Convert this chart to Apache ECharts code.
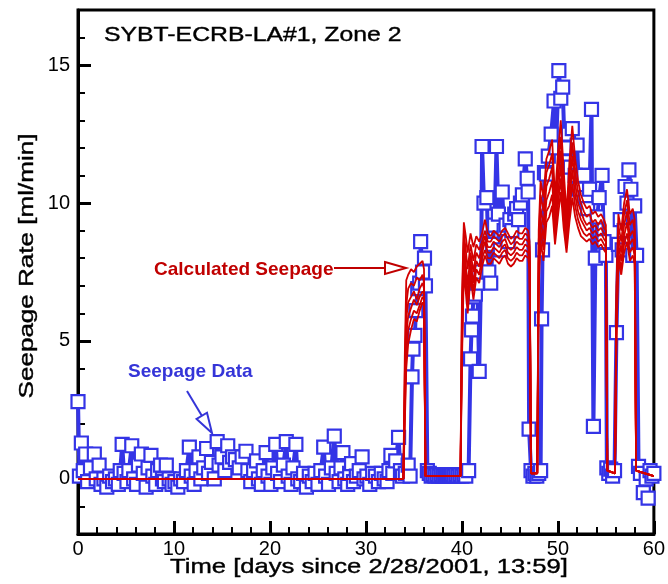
<!DOCTYPE html>
<html>
<head>
<meta charset="utf-8">
<script src="https://cdn.jsdelivr.net/npm/echarts@6/dist/echarts.min.js"></script>
<style>
  html, body { margin: 0; padding: 0; background: #fff; }
  #chart { width: 668px; height: 584px; }
</style>
</head>
<body>
<div id="chart"></div>
<script>
// Measured seepage rate [ml/min] versus time [days], in sampling order.
const measured = [
  [0.0,2.8],[0.15,0.1],[0.35,1.3],[0.55,0.3],[0.8,0.9],[1.0,-0.1],[1.3,0.4],[1.7,0.9],[1.9,0.0],[2.2,0.5],
  [2.4,-0.2],[2.7,0.0],[3.0,-0.3],[3.3,0.1],[3.6,-0.1],[3.9,0.0],[4.2,-0.2],[4.4,0.3],[4.6,1.25],[4.8,0.2],
  [5.1,-0.1],[5.3,0.3],[5.6,1.2],[5.8,0.0],[6.1,-0.2],[6.3,0.5],[6.6,0.9],[6.8,0.2],[7.1,-0.3],[7.3,0.4],
  [7.6,0.85],[7.8,0.1],[8.1,-0.2],[8.3,0.3],[8.6,0.5],[8.8,0.0],[9.0,-0.1],[9.2,0.5],[9.5,0.0],[9.8,-0.2],
  [10.1,-0.1],[10.4,-0.3],[10.7,0.0],[11.0,-0.1],[11.3,0.3],[11.6,1.15],[11.8,0.1],[12.1,-0.2],[12.3,0.3],[12.6,0.8],
  [12.8,0.0],[13.1,0.4],[13.4,1.1],[13.6,0.2],[13.9,0.6],[14.2,0.0],[14.5,1.35],[14.7,0.5],[15.0,0.8],[15.3,0.3],
  [15.6,1.2],[15.8,0.6],[16.1,0.8],[16.4,0.7],[16.8,0.4],[17.1,0.8],[17.5,1.0],[17.7,0.3],[18.0,-0.1],[18.3,0.3],
  [18.6,0.65],[18.8,0.0],[19.1,-0.2],[19.3,0.3],[19.6,0.95],[19.8,0.1],[20.1,-0.2],[20.3,0.4],[20.6,1.25],[20.8,0.2],
  [21.1,-0.1],[21.4,0.5],[21.7,1.35],[21.9,0.1],[22.2,-0.2],[22.4,0.4],[22.7,1.25],[22.9,0.0],[23.2,-0.1],[23.5,0.2],
  [23.8,-0.3],[24.1,0.1],[24.4,-0.1],[24.7,0.2],[25.0,-0.2],[25.3,0.3],[25.6,1.15],[25.8,0.1],[26.1,-0.2],[26.4,0.4],
  [26.7,1.55],[26.9,0.2],[27.2,-0.1],[27.4,0.4],[27.6,0.95],[27.8,0.0],[28.1,-0.2],[28.3,0.2],[28.5,0.55],[28.7,-0.1],
  [29.0,0.1],[29.3,0.3],[29.6,0.8],[29.8,0.0],[30.1,0.1],[30.4,-0.2],[30.7,0.2],[31.0,0.1],[31.3,-0.1],[31.6,0.2],
  [31.9,0.0],[32.2,-0.1],[32.4,0.3],[32.6,0.85],[32.8,0.2],[33.1,0.65],[33.4,1.5],[33.6,0.3],[33.8,0.1],[34.1,0.2],
  [34.4,0.5],[34.6,0.1],[34.8,3.7],[34.9,4.7],[35.1,5.2],[35.2,6.1],[35.4,6.9],[35.6,7.1],[35.7,8.6],[35.9,7.5],
  [36.1,8.0],[36.2,7.0],[36.4,0.3],[36.6,0.2],[36.8,0.1],[37.0,0.15],[37.2,0.1],[37.4,0.15],[37.6,0.1],[37.8,0.15],
  [38.0,0.1],[38.2,0.15],[38.4,0.1],[38.6,0.15],[38.8,0.1],[39.0,0.15],[39.2,0.1],[39.4,0.15],[39.6,0.1],[39.8,0.15],
  [40.0,0.1],[40.2,0.15],[40.4,0.1],[40.7,0.3],[40.9,4.35],[41.0,5.4],[41.1,5.9],[41.2,6.6],[41.4,6.7],[41.6,7.1],
  [41.8,3.9],[42.0,7.5],[42.1,12.05],[42.3,10.0],[42.6,10.2],[42.8,7.5],[43.0,7.1],[43.2,8.5],[43.4,9.2],[43.6,12.05],
  [43.8,9.6],[44.0,8.3],[44.2,10.4],[44.4,9.0],[44.6,9.2],[44.8,8.6],[45.0,9.4],[45.2,9.0],[45.5,9.6],[45.7,9.8],
  [45.9,9.4],[46.1,10.0],[46.3,10.3],[46.6,11.6],[46.8,10.9],[46.9,10.4],[47.0,1.8],[47.2,0.3],[47.4,0.1],[47.6,0.2],
  [47.8,0.1],[48.0,0.2],[48.2,0.3],[48.3,5.8],[48.4,8.3],[48.6,11.1],[48.8,11.05],[49.0,11.7],[49.3,12.5],[49.6,13.7],
  [49.8,12.0],[50.1,14.8],[50.3,13.8],[50.5,14.2],[50.7,12.0],[50.9,11.5],[51.1,12.5],[51.3,11.3],[51.5,12.7],[51.8,11.0],
  [52.0,12.1],[52.2,10.5],[52.5,11.0],[52.7,11.0],[52.9,10.2],[53.1,9.8],[53.3,10.5],[53.5,13.4],[53.7,1.9],[53.9,8.0],
  [54.1,9.5],[54.3,10.2],[54.6,11.0],[54.8,8.6],[55.0,8.1],[55.1,0.4],[55.3,0.2],[55.5,0.35],[55.7,0.1],[55.9,0.3],
  [56.1,5.3],[56.3,8.5],[56.5,9.4],[56.7,8.3],[56.9,9.0],[57.0,10.6],[57.2,10.0],[57.4,11.2],[57.6,10.5],[57.8,8.1],
  [58.0,9.9],[58.2,8.1],[58.4,0.45],[58.6,0.2],[58.9,-0.5],[59.2,0.0],[59.4,-0.7],[59.6,0.3],[59.8,0.1],[60.0,0.2]
];

// Shared time grid [days] for the calculated seepage realizations.
const calcDays = [
  0, 33.9,
  34.05, 34.2, 34.4, 34.7, 35.0, 35.3, 35.6, 35.9, 36.05, 36.2,
  39.85,
  40.0, 40.2, 40.4, 40.6, 40.9, 41.2, 41.5, 41.8, 42.1, 42.4, 42.7, 43.0, 43.3, 43.6,
  43.9, 44.2, 44.5, 44.8, 45.1, 45.4, 45.7, 46.0, 46.3, 46.6, 46.9, 47.05, 47.2,
  47.85,
  48.0, 48.2, 48.5, 48.8, 49.1, 49.4, 49.7, 50.0, 50.3, 50.6, 50.9, 51.2, 51.5,
  51.8, 52.1, 52.4, 52.7, 53.0, 53.3, 53.6, 53.9, 54.2, 54.5, 54.8, 55.0, 55.15,
  55.95,
  56.1, 56.3, 56.6, 56.9, 57.2, 57.5, 57.8, 58.0, 58.15,
  60
];

// Calculated seepage rate [ml/min], one array per realization.
const calc1 = [0, 0,
  4.5, 7.2, 7.4, 7.6, 7.5, 7.7, 7.8, 7.9, 7.6, 0.1,
  0.1,
  6.5, 9.3, 8.8, 8.2, 8.9, 8.4, 8.8, 8.6, 8.9, 9.4, 8.9, 8.8, 9.0, 8.9, 8.8, 9.0, 9.1, 8.9, 8.7, 8.8, 9.0, 8.9, 8.9, 9.1, 9.0, 8.6, 0.2,
  0.2,
  9.0, 10.8, 10.2, 11.6, 11.9, 12.3, 10.2, 11.8, 13.0, 11.2, 9.6, 11.5, 12.8, 11.6, 10.8, 10.3, 10.0, 9.8, 9.9, 9.6, 9.7, 9.5, 9.6, 9.4, 9.2, 0.3,
  0.2,
  7.0, 9.6, 9.0, 10.0, 10.5, 9.6, 9.8, 9.4, 0.3,
  0.1];
const calc2 = [0, 0,
  3.8, 6.3, 6.9, 7.1, 7.0, 7.3, 7.2, 7.4, 7.1, 0.1,
  0.1,
  6.0, 8.9, 8.3, 7.6, 8.5, 7.9, 8.5, 8.3, 8.6, 9.0, 8.6, 8.6, 8.8, 8.7, 8.6, 8.8, 8.9, 8.7, 8.5, 8.6, 8.8, 8.7, 8.7, 8.9, 8.8, 8.4, 0.2,
  0.2,
  8.6, 10.3, 9.7, 11.1, 11.4, 11.8, 9.8, 11.3, 12.4, 10.7, 9.2, 11.0, 12.2, 11.1, 10.4, 10.0, 9.7, 9.5, 9.6, 9.3, 9.4, 9.2, 9.4, 9.1, 9.0, 0.3,
  0.2,
  6.6, 9.2, 8.6, 9.6, 10.1, 9.2, 9.4, 9.0, 0.3,
  0.1];
const calc3 = [0, 0,
  3.3, 5.8, 6.4, 6.6, 6.8, 6.5, 6.9, 7.1, 6.9, 0.1,
  0.1,
  5.5, 8.6, 7.8, 7.0, 8.2, 7.5, 8.2, 8.0, 8.4, 8.8, 8.4, 8.4, 8.6, 8.5, 8.4, 8.6, 8.7, 8.4, 8.3, 8.4, 8.6, 8.5, 8.5, 8.7, 8.6, 8.2, 0.2,
  0.2,
  8.2, 9.8, 9.2, 10.6, 10.9, 11.3, 9.4, 10.8, 11.9, 10.2, 8.9, 10.5, 11.7, 10.7, 10.0, 9.7, 9.4, 9.2, 9.3, 9.1, 9.2, 9.0, 9.1, 8.9, 8.8, 0.3,
  0.2,
  6.2, 8.8, 8.2, 9.2, 9.7, 8.8, 9.0, 8.7, 0.3,
  0.1];
const calc4 = [0, 0,
  2.8, 5.2, 5.9, 6.2, 6.5, 6.3, 6.6, 6.8, 6.7, 0.1,
  0.1,
  5.0, 8.2, 7.4, 6.6, 7.9, 7.1, 7.9, 7.7, 8.2, 8.6, 8.2, 8.2, 8.4, 8.3, 8.2, 8.4, 8.5, 8.2, 8.1, 8.2, 8.4, 8.3, 8.3, 8.5, 8.4, 8.0, 0.2,
  0.2,
  7.8, 9.4, 8.7, 10.1, 10.4, 10.8, 9.1, 10.3, 11.4, 9.8, 8.6, 10.1, 11.2, 10.3, 9.7, 9.4, 9.2, 9.0, 9.1, 8.9, 9.0, 8.8, 8.9, 8.7, 8.6, 0.3,
  0.2,
  5.8, 8.5, 7.9, 8.8, 9.3, 8.5, 8.7, 8.4, 0.3,
  0.1];
const calc5 = [0, 0,
  2.4, 4.6, 5.4, 5.8, 6.1, 6.0, 6.3, 6.6, 6.5, 0.1,
  0.1,
  4.6, 7.9, 7.1, 6.3, 7.6, 6.8, 7.6, 7.4, 8.0, 8.3, 8.0, 8.0, 8.2, 8.1, 8.0, 8.2, 8.3, 8.0, 7.9, 8.0, 8.2, 8.1, 8.1, 8.3, 8.2, 7.8, 0.2,
  0.2,
  7.4, 9.0, 8.3, 9.7, 9.9, 10.3, 8.8, 9.9, 10.9, 9.4, 8.4, 9.7, 10.7, 9.9, 9.4, 9.1, 8.9, 8.8, 8.9, 8.7, 8.8, 8.6, 8.7, 8.5, 8.4, 0.3,
  0.2,
  5.4, 8.2, 7.6, 8.5, 8.9, 8.2, 8.4, 8.1, 0.3,
  0.1];
const calc6 = [0, 0,
  2.0, 4.0, 4.9, 5.4, 5.8, 5.7, 6.1, 6.4, 6.3, 0.1,
  0.1,
  4.2, 7.5, 6.8, 6.0, 7.3, 6.5, 7.3, 7.1, 7.7, 8.1, 7.8, 7.8, 8.0, 7.9, 7.8, 8.0, 8.1, 7.8, 7.7, 7.8, 8.0, 7.9, 7.9, 8.1, 8.0, 7.6, 0.2,
  0.2,
  7.0, 8.6, 7.9, 9.3, 9.5, 9.9, 8.5, 9.5, 10.4, 9.1, 8.2, 9.3, 10.2, 9.5, 9.1, 8.8, 8.7, 8.6, 8.7, 8.5, 8.6, 8.4, 8.5, 8.3, 8.2, 0.3,
  0.2,
  5.0, 7.9, 7.4, 8.2, 8.6, 7.9, 8.1, 7.8, 0.3,
  0.1];
const calcRuns = [calc1, calc2, calc3, calc4, calc5, calc6];

// Axis ticks
const xTicks = [0, 10, 20, 30, 40, 50, 60];
const yMajorTicks = [0, 5, 10, 15];

const BLUE = '#3434e6';
const RED = '#d20000';
const FONT = '"Liberation Sans", Arial, Helvetica, sans-serif';

const chart = echarts.init(document.getElementById('chart'), null, { renderer: 'canvas' });

const calcSeries = calcRuns.map((run, k) => ({
  name: 'Calculated ' + (k + 1),
  type: 'line',
  xAxisIndex: 0,
  yAxisIndex: 0,
  data: calcDays.map((t, i) => [t, run[i]]),
  showSymbol: false,
  symbol: 'none',
  lineStyle: { color: RED, width: 1.8 },
  z: 4,
  silent: true
}));

chart.setOption({
  animation: false,
  backgroundColor: '#fff',
  grid: {
    left: 78, right: 13, top: 10, bottom: 50,
    show: true, borderColor: '#000', borderWidth: 3, backgroundColor: 'transparent'
  },
  xAxis: {
    type: 'value',
    min: xTicks[0], max: xTicks[xTicks.length - 1], interval: 10,
    axisLine: { show: true, onZero: false, lineStyle: { color: '#000', width: 3 } },
    axisTick: { show: true, inside: true, length: 13, lineStyle: { color: '#000', width: 3 } },
    minorTick: { show: true, splitNumber: 5, length: 7, lineStyle: { color: '#000', width: 2 } },
    splitLine: { show: false },
    minorSplitLine: { show: false },
    axisLabel: { color: '#000', fontSize: 20, fontFamily: FONT, margin: 5 }
  },
  yAxis: [
    {
      type: 'value',
      min: -2, max: 17, interval: 1,
      axisLine: { show: true, onZero: false, lineStyle: { color: '#000', width: 3 } },
      axisTick: { show: true, inside: true, length: 7, lineStyle: { color: '#000', width: 2 } },
      axisLabel: { show: false },
      splitLine: { show: false }
    },
    {
      type: 'value',
      min: -2, max: 17,
      position: 'left',
      axisLine: { show: false, onZero: false },
      axisTick: { show: true, inside: true, length: 13, customValues: yMajorTicks,
                  lineStyle: { color: '#000', width: 3 } },
      axisLabel: { show: true, customValues: yMajorTicks, color: '#000',
                   fontSize: 20, fontFamily: FONT, margin: 8 },
      splitLine: { show: false }
    }
  ],
  series: [
    {
      name: 'Seepage Data',
      type: 'line',
      xAxisIndex: 0,
      yAxisIndex: 0,
      data: measured,
      symbol: 'rect',
      symbolSize: 13,
      showSymbol: true,
      lineStyle: { color: BLUE, width: 4 },
      itemStyle: { color: '#fff', borderColor: BLUE, borderWidth: 2.2 },
      z: 2,
      silent: true
    },
    ...calcSeries
  ],
  graphic: [
    {
      type: 'text', x: 104, y: 35, scaleX: 1.18, z: 10,
      style: { text: 'SYBT-ECRB-LA#1, Zone 2', fontSize: 21, fontFamily: FONT,
               fill: '#000', stroke: '#000', lineWidth: 0.4,
               textAlign: 'left', textVerticalAlign: 'middle' }
    },
    {
      type: 'text', x: 369, y: 567, scaleX: 1.22, z: 10,
      style: { text: 'Time [days since 2/28/2001, 13:59]', fontSize: 21, fontFamily: FONT,
               fill: '#000', stroke: '#000', lineWidth: 0.4,
               textAlign: 'center', textVerticalAlign: 'middle' }
    },
    {
      type: 'text', x: 27, y: 266, rotation: Math.PI / 2, scaleX: 1.24, z: 10,
      style: { text: 'Seepage Rate [ml/min]', fontSize: 21, fontFamily: FONT,
               fill: '#000', stroke: '#000', lineWidth: 0.4,
               textAlign: 'center', textVerticalAlign: 'middle' }
    },
    {
      type: 'text', x: 154, y: 270, z: 10,
      style: { text: 'Calculated Seepage', fontSize: 19, fontWeight: 'bold', fontFamily: FONT,
               fill: '#c00000', textAlign: 'left', textVerticalAlign: 'middle' }
    },
    {
      type: 'polyline', z: 10,
      shape: { points: [[334, 268], [385, 268]] },
      style: { stroke: '#c00000', lineWidth: 2, fill: null }
    },
    {
      type: 'polygon', z: 10,
      shape: { points: [[385, 262], [406, 268], [385, 274]] },
      style: { stroke: '#c00000', lineWidth: 2, fill: '#fff' }
    },
    {
      type: 'text', x: 128, y: 372, z: 10,
      style: { text: 'Seepage Data', fontSize: 19, fontWeight: 'bold', fontFamily: FONT,
               fill: '#3535d8', textAlign: 'left', textVerticalAlign: 'middle' }
    },
    {
      type: 'polyline', z: 10,
      shape: { points: [[187, 391], [202, 416]] },
      style: { stroke: '#3535d8', lineWidth: 2, fill: null }
    },
    {
      type: 'polygon', z: 10,
      shape: { points: [[196.6, 418.9], [212, 433], [207, 412.7]] },
      style: { stroke: '#3535d8', lineWidth: 2, fill: '#fff' }
    }
  ]
});
</script>
</body>
</html>
